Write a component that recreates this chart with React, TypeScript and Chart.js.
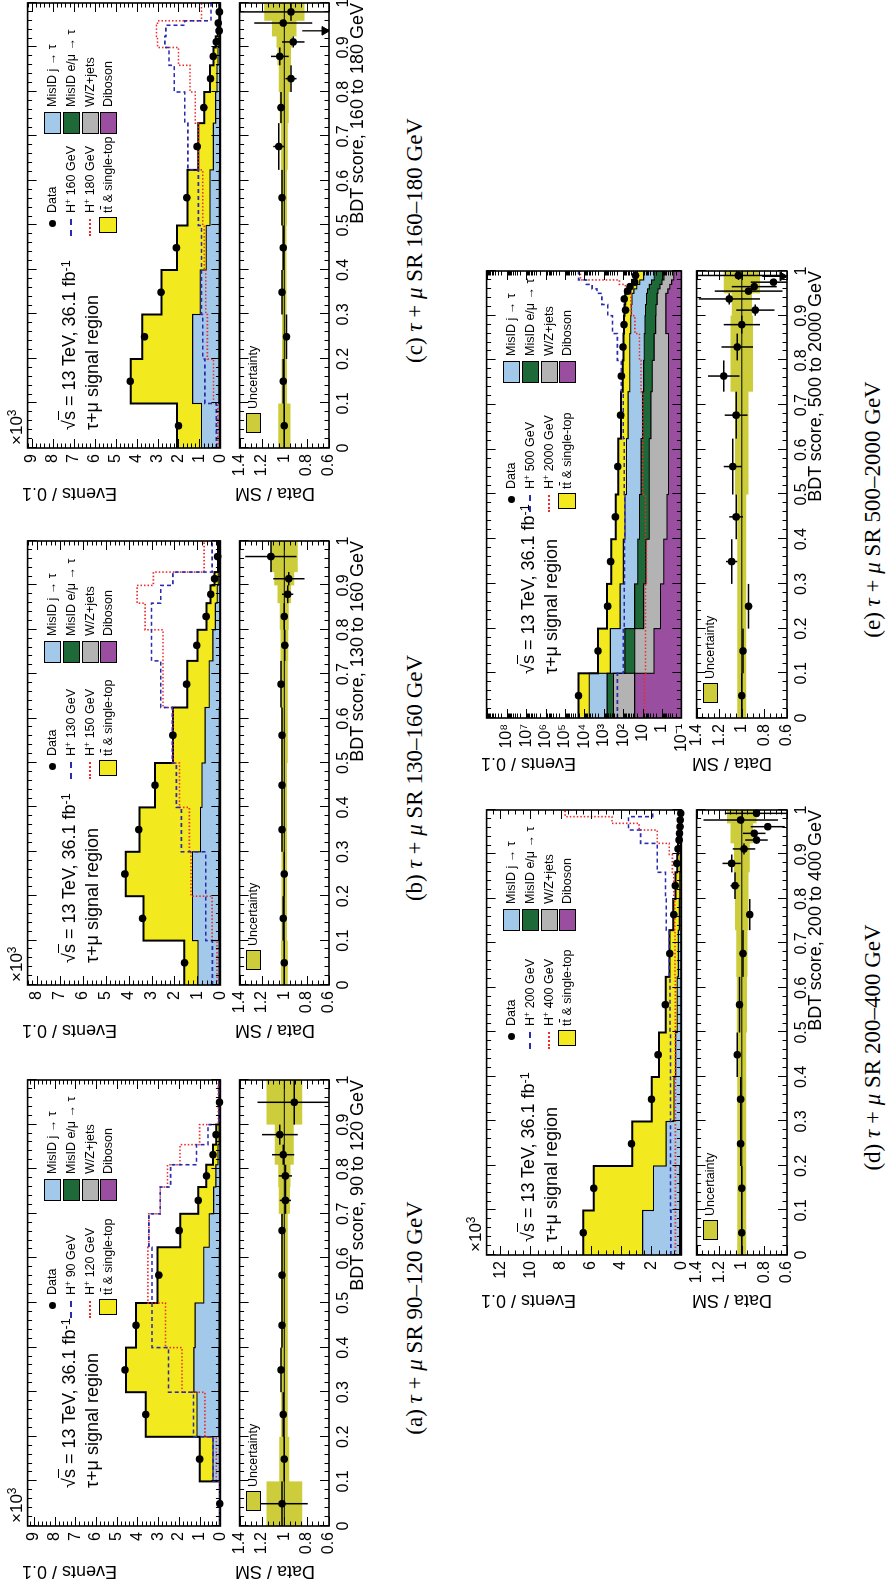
import React, { useEffect, useRef } from "react";
import { Chart, registerables } from "chart.js";

Chart.register(...registerables);

// ===================== DATA =====================
// (a) SR 90-120 GeV  (events in units of 10^3)
const EDGES_A = [0, 0.1, 0.2, 0.3, 0.4, 0.5, 0.625, 0.7, 0.76, 0.81, 0.855, 0.9, 1];
const TTBAR_A = [0.008, 0.645, 2.47, 3.27, 2.85, 2.23, 1.4, 0.74, 0.46, 0.244, 0.14, 0.035];
const MISJ_A = [0.01, 0.3, 1.05, 1.2, 1.15, 0.75, 0.5, 0.3, 0.2, 0.1, 0.05, 0.01];
const MISEMU_A = [0.005, 0.03, 0.04, 0.04, 0.035, 0.03, 0.02, 0.015, 0.01, 0.008, 0.005, 0.002];
const WZ_A = [0.005, 0.02, 0.03, 0.03, 0.025, 0.02, 0.015, 0.01, 0.008, 0.006, 0.004, 0.002];
const DIB_A = [0.002, 0.005, 0.008, 0.008, 0.007, 0.006, 0.004, 0.003, 0.002, 0.002, 0.001, 0.001];
const SIG1_A = [0.02, 0.35, 1.3, 2.5, 3.3, 3.3, 3.45, 2.9, 2.4, 1.15, 0.6, 0.05];
const SIG2_A = [0.01, 0.2, 0.75, 1.85, 2.65, 3.5, 3.45, 2.9, 2.55, 1.95, 1.0, 0.1];
const DATA_A = [0.03, 1.0, 3.6, 4.6, 4.07, 2.97, 1.99, 1.07, 0.67, 0.36, 0.21, 0.045];
const RATIO_A = [1.02, 1.0, 1.01, 1.03, 1.02, 1.02, 1.02, 0.99, 0.99, 1.01, 1.04, 0.91];
const RATIO_ERR_A = [0.23, 0.03, 0.015, 0.015, 0.015, 0.02, 0.025, 0.05, 0.06, 0.1, 0.16, 0.33];
const UNC_A = [0.16, 0.045, 0.03, 0.03, 0.03, 0.03, 0.03, 0.05, 0.055, 0.085, 0.085, 0.16];
const ARROW_X_A: number[] = [];
const ARROW_FROM_A: number[] = [];

// (b) SR 130-160 GeV
const EDGES_B = [0, 0.1, 0.2, 0.3, 0.4, 0.5, 0.625, 0.73, 0.8, 0.86, 0.9, 0.93, 1];
const TTBAR_B = [0.6, 2.13, 2.91, 2.66, 2.05, 1.4, 0.96, 0.67, 0.39, 0.295, 0.17, 0.064];
const MISJ_B = [0.92, 1.14, 1.14, 0.8, 0.75, 0.62, 0.45, 0.3, 0.2, 0.12, 0.08, 0.04];
const MISEMU_B = [0.03, 0.04, 0.04, 0.035, 0.03, 0.025, 0.02, 0.015, 0.01, 0.008, 0.006, 0.003];
const WZ_B = [0.02, 0.03, 0.03, 0.025, 0.02, 0.018, 0.014, 0.01, 0.008, 0.006, 0.004, 0.002];
const DIB_B = [0.004, 0.006, 0.006, 0.005, 0.004, 0.004, 0.003, 0.002, 0.002, 0.001, 0.001, 0.001];
const SIG1_B = [0.35, 0.64, 0.64, 1.7, 1.92, 2.1, 2.6, 3.0, 3.0, 2.6, 2.07, 0.36];
const SIG2_B = [0.15, 0.36, 1.28, 1.35, 1.78, 2.07, 2.5, 2.5, 3.28, 3.63, 2.92, 0.71];
const DATA_B = [1.56, 3.39, 4.16, 3.56, 2.85, 2.07, 1.47, 1.03, 0.62, 0.42, 0.25, 0.12];
const RATIO_B = [1.0, 1.01, 1.0, 1.02, 1.02, 1.02, 1.03, 0.995, 1.0, 0.97, 0.96, 1.12];
const RATIO_ERR_B = [0.01, 0.01, 0.01, 0.01, 0.012, 0.015, 0.02, 0.025, 0.03, 0.05, 0.14, 0.23];
const UNC_B = [0.03, 0.025, 0.025, 0.025, 0.025, 0.03, 0.03, 0.035, 0.04, 0.06, 0.09, 0.12];
const ARROW_X_B: number[] = [];
const ARROW_FROM_B: number[] = [];

// (c) SR 160-180 GeV
const EDGES_C = [0, 0.1, 0.2, 0.3, 0.4, 0.5, 0.625, 0.73, 0.8, 0.86, 0.9, 0.925, 0.95, 0.96, 1];
const TTBAR_C = [1.17, 2.95, 2.4, 1.84, 1.4, 1.07, 0.72, 0.54, 0.34, 0.215, 0.15, 0.082, 0.064, 0.026];
const MISJ_C = [0.85, 1.25, 1.25, 0.9, 0.62, 0.45, 0.3, 0.2, 0.14, 0.1, 0.06, 0.04, 0.03, 0.02];
const MISEMU_C = [0.03, 0.04, 0.04, 0.035, 0.03, 0.025, 0.02, 0.015, 0.01, 0.008, 0.006, 0.004, 0.003, 0.002];
const WZ_C = [0.02, 0.03, 0.03, 0.025, 0.02, 0.018, 0.014, 0.01, 0.008, 0.006, 0.004, 0.003, 0.002, 0.001];
const DIB_C = [0.004, 0.006, 0.006, 0.005, 0.004, 0.004, 0.003, 0.002, 0.002, 0.001, 0.001, 0.001, 0.001, 0.001];
const SIG1_C = [0.19, 0.74, 0.84, 0.9, 0.9, 1.05, 1.55, 1.7, 2.2, 2.45, 2.65, 2.6, 1.7, 0.45];
const SIG2_C = [0.12, 0.33, 0.62, 0.7, 0.77, 0.84, 1.05, 1.2, 1.45, 2.0, 3.0, 3.05, 3.0, 0.9];
const DATA_C = [2.0, 4.3, 3.62, 2.83, 2.1, 1.6, 1.11, 0.79, 0.47, 0.34, 0.2, 0.06, 0.1, 0.047];
const RATIO_C: (number | null)[] = [1.0, 1.01, 0.98, 1.02, 1.01, 1.02, 1.05, 1.03, 0.94, 1.04, 0.92, null, 1.01, 0.94];
const RATIO_ERR_C = [0.01, 0.01, 0.015, 0.01, 0.015, 0.02, 0.05, 0.03, 0.05, 0.08, 0.1, 0, 0.26, 0.5];
const UNC_C = [0.055, 0.025, 0.02, 0.02, 0.02, 0.025, 0.03, 0.04, 0.05, 0.06, 0.07, 0.11, 0.11, 0.18];
const ARROW_X_C = [0.9375];
const ARROW_FROM_C = [0.84];

// (d) SR 200-400 GeV
const EDGES_D = [0, 0.1, 0.2, 0.3, 0.4, 0.5, 0.625, 0.73, 0.8, 0.86, 0.9, 0.925, 0.94, 0.955, 0.97, 0.985, 1];
const TTBAR_D = [3.93, 3.95, 2.25, 1.47, 1.1, 0.765, 0.58, 0.404, 0.287, 0.21, 0.167, 0.128, 0.104, 0.08, 0.056, 0.037];
const MISJ_D = [2.45, 1.75, 0.95, 0.45, 0.35, 0.25, 0.18, 0.12, 0.09, 0.06, 0.045, 0.035, 0.03, 0.025, 0.02, 0.01];
const MISEMU_D = [0.06, 0.05, 0.03, 0.02, 0.015, 0.012, 0.01, 0.008, 0.006, 0.005, 0.004, 0.003, 0.003, 0.002, 0.002, 0.001];
const WZ_D = [0.05, 0.04, 0.025, 0.015, 0.012, 0.01, 0.008, 0.006, 0.005, 0.004, 0.003, 0.003, 0.002, 0.002, 0.001, 0.001];
const DIB_D = [0.01, 0.008, 0.006, 0.004, 0.003, 0.003, 0.002, 0.002, 0.002, 0.001, 0.001, 0.001, 0.001, 0.001, 0.001, 0.001];
const SIG1_D = [0.7, 0.72, 0.72, 0.72, 0.72, 0.75, 0.8, 1.0, 1.05, 1.6, 1.6, 2.7, 2.7, 3.5, 3.5, 1.9];
const SIG2_D = [0.4, 0.4, 0.4, 0.4, 0.4, 0.4, 0.42, 0.45, 0.5, 0.6, 0.8, 1.6, 1.6, 2.8, 4.6, 7.7];
const DATA_D = [6.5, 5.8, 3.3, 1.98, 1.54, 1.06, 0.77, 0.5, 0.41, 0.3, 0.215, 0.15, 0.125, 0.085, 0.08, 0.045];
const RATIO_D = [1.0, 1.0, 1.01, 1.01, 1.04, 1.02, 0.99, 0.93, 1.06, 1.09, 0.98, 0.87, 0.89, 0.77, 1.01, 0.87];
const RATIO_ERR_D = [0.01, 0.01, 0.01, 0.015, 0.02, 0.02, 0.03, 0.03, 0.04, 0.08, 0.1, 0.1, 0.1, 0.15, 0.33, 0.28];
const UNC_D = [0.04, 0.04, 0.04, 0.04, 0.04, 0.045, 0.05, 0.06, 0.06, 0.07, 0.07, 0.1, 0.1, 0.1, 0.13, 0.13];
const ARROW_X_D: number[] = [];
const ARROW_FROM_D: number[] = [];

// (e) SR 500-2000 GeV (events, log scale)
const EDGES_E = [0, 0.1, 0.2, 0.3, 0.4, 0.5, 0.625, 0.73, 0.8, 0.86, 0.9, 0.925, 0.95, 0.96, 0.97, 0.98, 1];
const TTBAR_E = [14300, 1540, 532, 310, 159, 110, 73, 61, 52, 50, 47, 44, 35, 30, 21.4, 13.5];
const MISJ_E = [4950, 376, 119, 80, 67, 55.6, 46, 37, 37.6, 33, 31, 29, 22.6, 15.5, 10.6, 6.4];
const MISEMU_E = [360, 56, 16.8, 11, 9.9, 7.4, 6.2, 5.7, 5.6, 5.4, 5.1, 4.5, 4.0, 3.2, 2.5, 1.7];
const WZ_E = [290, 23, 7.7, 5.95, 4.0, 4.1, 3.3, 2.7, 2.1, 1.5, 1.4, 1.15, 1.1, 0.86, 0.68, 0.54];
const DIB_E = [25.7, 2.6, 1.2, 0.81, 0.55, 0.46, 0.46, 0.46, 0.46, 0.63, 0.63, 0.63, 0.5, 0.4, 0.32, 0.25];
const SIG1_E = [200, 100, 89, 85, 83, 89, 100, 126, 200, 355, 630, 1260, 2240, 3980, 7940, 19950];
const SIG2_E = [8.1, 7.1, 7.1, 6.3, 7.1, 10, 10, 12, 14.5, 25, 38, 40, 50, 79, 158, 15850];
const DATA_E = [20000, 1975, 635, 444, 252, 192, 135, 124, 102, 91, 75, 88, 59, 44.5, 25.6, 23];
const RATIO_E = [1.0, 0.99, 0.94, 1.09, 1.05, 1.08, 1.05, 1.16, 1.04, 1.0, 0.88, 1.11, 0.94, 0.89, 0.72, 1.03];
const RATIO_ERR_E = [0.01, 0.02, 0.03, 0.05, 0.06, 0.08, 0.1, 0.14, 0.14, 0.16, 0.17, 0.27, 0.3, 0.2, 0.2, 0.4];
const UNC_E = [0.04, 0.04, 0.04, 0.04, 0.04, 0.06, 0.06, 0.1, 0.1, 0.1, 0.09, 0.09, 0.16, 0.16, 0.16, 0.16];
const ARROW_X_E = [0.988];
const ARROW_FROM_E = [0.82];

// signal mass labels (GeV)
const SIG_MASSES = [
  ["90", "120"],
  ["130", "150"],
  ["160", "180"],
  ["200", "400"],
  ["500", "2000"],
];

// ===================== STYLE =====================
const SANS = '"Liberation Sans", Arial, Helvetica, sans-serif';
const NARROW = '"Liberation Sans Narrow", "Liberation Sans", Arial, sans-serif';
const SERIF = '"Liberation Serif", "DejaVu Serif", "Times New Roman", serif';

const C_TT = "#f2ea1e";
const C_J = "#a3c9ea";
const C_EMU = "#1d6a38";
const C_WZ = "#b3b3b3";
const C_DIB = "#9a4e9f";
const C_UNC = "#cdcd3c";
const C_SIG1 = "#2b2bb0";
const C_SIG2 = "#ee2a2a";

const ML = 50; // left margin in canvas for y labels
const MP = 14; // other margins main
const RP = 12; // top pad ratio
const XB = 28; // x label band
const TICKF = 16;
const TITLEF = 18;
const LEGF = 12.5;

const ROWS = [
  { top: 26, bottom: 222, rTop: 236, rBottom: 329 },
  { top: 485, bottom: 683, rTop: 693, rBottom: 787 },
];

type Panel = {
  letter: string;
  lo: string;
  hi: string;
  m1: string;
  m2: string;
  X0: number;
  W: number;
  row: number;
  edges: number[];
  tt: number[];
  jet: number[];
  emu: number[];
  wz: number[];
  dib: number[];
  s1: number[];
  s2: number[];
  data: number[];
  ratio: (number | null)[];
  ratioErr: number[];
  unc: number[];
  arrowX: number[];
  arrowFrom: number[];
  log: boolean;
  yMax: number;
  yStep: number;
  yMinor: number;
  atlasOff: number;
  leg1: number;
  leg2: number;
};

const PANELS: Panel[] = [
  { letter: "a", lo: "90", hi: "120", m1: SIG_MASSES[0][0], m2: SIG_MASSES[0][1], X0: 59, W: 446, row: 0, edges: EDGES_A, tt: TTBAR_A, jet: MISJ_A, emu: MISEMU_A, wz: WZ_A, dib: DIB_A, s1: SIG1_A, s2: SIG2_A, data: DATA_A, ratio: RATIO_A, ratioErr: RATIO_ERR_A, unc: UNC_A, arrowX: ARROW_X_A, arrowFrom: ARROW_FROM_A, log: false, yMax: 9.3, yStep: 1, yMinor: 0.2, atlasOff: 38, leg1: 220, leg2: 325 },
  { letter: "b", lo: "130", hi: "160", m1: SIG_MASSES[1][0], m2: SIG_MASSES[1][1], X0: 600, W: 444, row: 0, edges: EDGES_B, tt: TTBAR_B, jet: MISJ_B, emu: MISEMU_B, wz: WZ_B, dib: DIB_B, s1: SIG1_B, s2: SIG2_B, data: DATA_B, ratio: RATIO_B, ratioErr: RATIO_ERR_B, unc: UNC_B, arrowX: ARROW_X_B, arrowFrom: ARROW_FROM_B, log: false, yMax: 8.4, yStep: 1, yMinor: 0.2, atlasOff: 22, leg1: 218, leg2: 322 },
  { letter: "c", lo: "160", hi: "180", m1: SIG_MASSES[2][0], m2: SIG_MASSES[2][1], X0: 1137, W: 445, row: 0, edges: EDGES_C, tt: TTBAR_C, jet: MISJ_C, emu: MISEMU_C, wz: WZ_C, dib: DIB_C, s1: SIG1_C, s2: SIG2_C, data: DATA_C, ratio: RATIO_C, ratioErr: RATIO_ERR_C, unc: UNC_C, arrowX: ARROW_X_C, arrowFrom: ARROW_FROM_C, log: false, yMax: 9.2, yStep: 1, yMinor: 0.2, atlasOff: 18, leg1: 224, leg2: 314 },
  { letter: "d", lo: "200", hi: "400", m1: SIG_MASSES[3][0], m2: SIG_MASSES[3][1], X0: 330, W: 445, row: 1, edges: EDGES_D, tt: TTBAR_D, jet: MISJ_D, emu: MISEMU_D, wz: WZ_D, dib: DIB_D, s1: SIG1_D, s2: SIG2_D, data: DATA_D, ratio: RATIO_D, ratioErr: RATIO_ERR_D, unc: UNC_D, arrowX: ARROW_X_D, arrowFrom: ARROW_FROM_D, log: false, yMax: 12.9, yStep: 2, yMinor: 0.5, atlasOff: 13, leg1: 218, leg2: 324 },
  { letter: "e", lo: "500", hi: "2000", m1: SIG_MASSES[4][0], m2: SIG_MASSES[4][1], X0: 867, W: 447, row: 1, edges: EDGES_E, tt: TTBAR_E, jet: MISJ_E, emu: MISEMU_E, wz: WZ_E, dib: DIB_E, s1: SIG1_E, s2: SIG2_E, data: DATA_E, ratio: RATIO_E, ratioErr: RATIO_ERR_E, unc: UNC_E, arrowX: ARROW_X_E, arrowFrom: ARROW_FROM_E, log: true, yMax: 1.1e9, yStep: 1, yMinor: 1, atlasOff: 44, leg1: 218, leg2: 335 },
];

// ===================== HELPERS =====================
function stepPts(edges: number[], vals: number[]) {
  const pts = vals.map((v, i) => ({ x: edges[i], y: v }));
  pts.push({ x: edges[edges.length - 1], y: vals[vals.length - 1] });
  return pts;
}
function binCenters(edges: number[]) {
  return edges.slice(0, -1).map((e, i) => (e + edges[i + 1]) / 2);
}
function cumulate(layers: number[][]) {
  const out: number[][] = [];
  layers.forEach((l, k) => out.push(l.map((v, i) => v + (k ? out[k - 1][i] : 0))));
  return out;
}
type Tk = { v: number; major: boolean };
function linTicks(min: number, max: number, major: number, minor: number): Tk[] {
  const t: Tk[] = [];
  const n = Math.floor((max - min) / minor + 1e-6);
  for (let i = 0; i <= n; i++) {
    const v = min + i * minor;
    const q = (v - min) / major;
    t.push({ v, major: Math.abs(q - Math.round(q)) < 1e-6 });
  }
  return t;
}
function logTicks(min: number, max: number): Tk[] {
  const t: Tk[] = [];
  for (let d = -2; d <= 10; d++)
    for (let k = 1; k <= 9; k++) {
      const v = k * Math.pow(10, d);
      if (v >= min * 0.999 && v <= max) t.push({ v, major: k === 1 });
    }
  return t;
}
const SUP: Record<string, string> = { "-": "⁻", "0": "⁰", "1": "¹", "2": "²", "3": "³", "4": "⁴", "5": "⁵", "6": "⁶", "7": "⁷", "8": "⁸", "9": "⁹" };
function logLabel(v: number) {
  const e = Math.round(Math.log10(v));
  if (e === 0) return "1";
  if (e === 1) return "10";
  return "10" + String(e).split("").map((c) => SUP[c]).join("");
}

function framePlugin(yTicks: Tk[]) {
  return {
    id: "atlasFrame",
    afterDatasetsDraw(chart: any) {
      const { ctx, chartArea: a } = chart;
      const xs = chart.scales.x;
      const ys = chart.scales.y;
      ctx.save();
      ctx.strokeStyle = "#000";
      ctx.lineWidth = 1;
      ctx.beginPath();
      for (let i = 0; i <= 50; i++) {
        const px = Math.round(xs.getPixelForValue(i / 50)) + 0.5;
        const L = i % 5 === 0 ? 9 : 4.5;
        ctx.moveTo(px, a.bottom);
        ctx.lineTo(px, a.bottom - L);
        ctx.moveTo(px, a.top);
        ctx.lineTo(px, a.top + L);
      }
      for (const t of yTicks) {
        const py = Math.round(ys.getPixelForValue(t.v)) + 0.5;
        if (py < a.top - 0.5 || py > a.bottom + 0.5) continue;
        const L = t.major ? 9 : 4.5;
        ctx.moveTo(a.left, py);
        ctx.lineTo(a.left + L, py);
        ctx.moveTo(a.right, py);
        ctx.lineTo(a.right - L, py);
      }
      ctx.stroke();
      ctx.lineWidth = 1.6;
      ctx.strokeRect(a.left, a.top, a.right - a.left, a.bottom - a.top);
      ctx.restore();
    },
  };
}

const tickFont = { family: SANS, size: TICKF };

function mainConfig(p: Panel): any {
  const cum = cumulate([p.dib, p.wz, p.emu, p.jet, p.tt]);
  const ctr = binCenters(p.edges);
  const sb = { stepped: "before", pointRadius: 0, tension: 0 };
  const datasets: any[] = [
    { data: ctr.map((c, i) => ({ x: c, y: p.data[i] })), showLine: false, pointRadius: 3.8, pointBackgroundColor: "#000", pointBorderColor: "#000", pointBorderWidth: 0, clip: false, fill: false },
    { ...sb, data: stepPts(p.edges, p.s1), borderColor: C_SIG1, borderWidth: 1.6, borderDash: [4, 3], fill: false },
    { ...sb, data: stepPts(p.edges, p.s2), borderColor: C_SIG2, borderWidth: 1.6, borderDash: [1.5, 2], fill: false },
    { ...sb, data: stepPts(p.edges, cum[4]), borderColor: "#000", borderWidth: 2, backgroundColor: C_TT, fill: 4 },
    { ...sb, data: stepPts(p.edges, cum[3]), borderColor: "#000", borderWidth: 1.1, backgroundColor: C_J, fill: 5 },
    { ...sb, data: stepPts(p.edges, cum[2]), borderColor: "#000", borderWidth: 1.1, backgroundColor: C_EMU, fill: 6 },
    { ...sb, data: stepPts(p.edges, cum[1]), borderColor: "#000", borderWidth: 1.1, backgroundColor: C_WZ, fill: 7 },
    { ...sb, data: stepPts(p.edges, cum[0]), borderColor: "#000", borderWidth: 1.1, backgroundColor: C_DIB, fill: "start" },
  ];
  const yScale: any = p.log
    ? {
        type: "logarithmic",
        min: 0.1,
        max: p.yMax,
        grid: { display: false, drawTicks: false },
        border: { display: false },
        ticks: { padding: 6, color: "#000", font: tickFont, autoSkip: false, callback: (v: number) => logLabel(v) },
        afterBuildTicks: (s: any) => {
          s.ticks = [-1, 0, 1, 2, 3, 4, 5, 6, 7, 8].map((e) => ({ value: Math.pow(10, e) }));
        },
        afterFit: (s: any) => {
          s.width = ML;
        },
      }
    : {
        type: "linear",
        min: 0,
        max: p.yMax,
        grid: { display: false, drawTicks: false },
        border: { display: false },
        ticks: { stepSize: p.yStep, includeBounds: false, padding: 6, color: "#000", font: tickFont, autoSkip: false },
        afterFit: (s: any) => {
          s.width = ML;
        },
      };
  const yt = p.log ? logTicks(0.1, p.yMax) : linTicks(0, p.yMax, p.yStep, p.yMinor);
  return {
    type: "line",
    data: { datasets },
    options: {
      animation: false,
      responsive: false,
      maintainAspectRatio: false,
      devicePixelRatio: 1,
      events: [],
      layout: { padding: { left: 0, right: MP, top: MP, bottom: MP } },
      plugins: { legend: { display: false }, tooltip: { enabled: false }, filler: { drawTime: "beforeDatasetsDraw" } },
      scales: { x: { type: "linear", min: 0, max: 1, display: false }, y: yScale },
    },
    plugins: [framePlugin(yt)],
  };
}

function ratioConfig(p: Panel): any {
  const ctr = binCenters(p.edges);
  const pts: any[] = [];
  const err: any[] = [];
  ctr.forEach((c, i) => {
    const r = p.ratio[i];
    if (r === null || r === undefined) return;
    pts.push({ x: c, y: r });
    const e = p.ratioErr[i];
    err.push({ x: p.edges[i], y: r }, { x: p.edges[i + 1], y: r }, { x: p.edges[i + 1], y: null });
    err.push({ x: c, y: r - e }, { x: c, y: r + e }, { x: c, y: null });
  });
  const arrLine: any[] = [];
  const arrHead: any[] = [];
  p.arrowX.forEach((x, i) => {
    arrLine.push({ x, y: p.arrowFrom[i] }, { x, y: 0.65 }, { x, y: null });
    arrHead.push({ x, y: 0.64 });
  });
  const hi = p.unc.map((u) => 1 + u);
  const lo = p.unc.map((u) => 1 - u);
  const datasets: any[] = [
    { data: pts, showLine: false, pointRadius: 3.8, pointBackgroundColor: "#000", pointBorderColor: "#000", pointBorderWidth: 0, clip: false, fill: false },
    { data: err, borderColor: "#000", borderWidth: 1.5, pointRadius: 0, spanGaps: false, fill: false },
    { data: arrLine, borderColor: "#000", borderWidth: 1.3, pointRadius: 0, spanGaps: false, fill: false },
    { data: arrHead, showLine: false, pointStyle: "triangle", rotation: 180, pointRadius: 5, pointBackgroundColor: "#000", pointBorderColor: "#000", fill: false },
    { data: [{ x: 0, y: 1 }, { x: 1, y: 1 }], borderColor: "#000", borderWidth: 1, pointRadius: 0, fill: false },
    { data: stepPts(p.edges, hi), stepped: "before", borderColor: "rgba(0,0,0,0)", borderWidth: 0, backgroundColor: C_UNC, fill: 6, pointRadius: 0 },
    { data: stepPts(p.edges, lo), stepped: "before", borderColor: "rgba(0,0,0,0)", borderWidth: 0, fill: false, pointRadius: 0 },
  ];
  const fmt = (v: number) => String(Math.round(v * 10) / 10);
  return {
    type: "line",
    data: { datasets },
    options: {
      animation: false,
      responsive: false,
      maintainAspectRatio: false,
      devicePixelRatio: 1,
      events: [],
      layout: { padding: { left: 0, right: MP, top: RP, bottom: 0 } },
      plugins: { legend: { display: false }, tooltip: { enabled: false }, filler: { drawTime: "beforeDatasetsDraw" } },
      scales: {
        x: {
          type: "linear",
          min: 0,
          max: 1,
          grid: { display: false, drawTicks: false },
          border: { display: false },
          ticks: { stepSize: 0.1, padding: 5, color: "#000", font: tickFont, autoSkip: false, maxRotation: 0, minRotation: 0, callback: fmt },
          afterFit: (s: any) => {
            s.height = XB;
          },
        },
        y: {
          type: "linear",
          min: 0.6,
          max: 1.4,
          grid: { display: false, drawTicks: false },
          border: { display: false },
          ticks: { stepSize: 0.2, padding: 6, color: "#000", font: tickFont, autoSkip: false, callback: fmt },
          afterFit: (s: any) => {
            s.width = ML;
          },
        },
      },
    },
    plugins: [framePlugin(linTicks(0.6, 1.4, 0.2, 0.05))],
  };
}

// ===================== COMPONENTS =====================
function ChartBox({ left, top, width, height, build }: { left: number; top: number; width: number; height: number; build: () => any }) {
  const ref = useRef<HTMLCanvasElement | null>(null);
  useEffect(() => {
    if (!ref.current) return;
    const chart = new Chart(ref.current, build());
    return () => chart.destroy();
  }, []);
  return <canvas ref={ref} width={width} height={height} style={{ position: "absolute", left, top, width, height }} />;
}

function Txt({ x, y, size, family, children, align }: { x: number; y: number; size: number; family: string; children: any; align?: "left" | "right" | "center" }) {
  const base: any = { position: "absolute", top: y - size * 0.6, fontSize: size, lineHeight: `${size * 1.2}px`, fontFamily: family, whiteSpace: "nowrap", color: "#000" };
  if (align === "right") return <div style={{ ...base, left: x - 600, width: 600, textAlign: "right" }}>{children}</div>;
  if (align === "center") return <div style={{ ...base, left: x - 400, width: 800, textAlign: "center" }}>{children}</div>;
  return <div style={{ ...base, left: x }}>{children}</div>;
}

function VTxt({ x, yTop, size, children }: { x: number; yTop: number; size: number; children: any }) {
  return (
    <div
      style={{
        position: "absolute",
        left: x,
        top: yTop,
        fontSize: size,
        lineHeight: `${size * 1.2}px`,
        fontFamily: SANS,
        whiteSpace: "nowrap",
        transformOrigin: "0 0",
        transform: "rotate(-90deg) translate(-100%, -50%)",
      }}
    >
      {children}
    </div>
  );
}

function Box({ x, y, w, h, color }: { x: number; y: number; w: number; h: number; color: string }) {
  return <div style={{ position: "absolute", left: x, top: y, width: w, height: h, background: color, border: "1.5px solid #000", boxSizing: "border-box" }} />;
}

const supS = { fontSize: "0.7em", position: "relative" as const, top: "-0.45em" };

function PanelView({ p }: { p: Panel }) {
  const R = ROWS[p.row];
  const X0 = p.X0;
  const X1 = p.X0 + p.W;
  const mainH = R.bottom - R.top;
  const ratH = R.rBottom - R.rTop;
  const rowsY = [26, 45, 64, 82].map((d) => R.top + d);
  const dX = X0 + p.leg1;
  const bX = X0 + p.leg2;
  const col2 = [
    { c: C_J, t: <>MisID j → τ</> },
    { c: C_EMU, t: <>MisID e/μ → τ</> },
    { c: C_WZ, t: <>W/Z+jets</> },
    { c: C_DIB, t: <>Diboson</> },
  ];
  return (
    <>
      <ChartBox left={X0 - ML} top={R.top - MP} width={p.W + ML + MP} height={mainH + 2 * MP} build={() => mainConfig(p)} />
      <ChartBox left={X0 - ML} top={R.rTop - RP} width={p.W + ML + MP} height={ratH + RP + XB} build={() => ratioConfig(p)} />

      {!p.log && (
        <Txt x={X0 + 3} y={R.top - 9} size={17} family={SANS}>
          ×10<span style={supS}>3</span>
        </Txt>
      )}

      <Txt x={X0 + p.atlasOff} y={R.top + 44} size={TITLEF} family={SANS}>
        √<span style={{ borderTop: "1.5px solid #000" }}>s</span> = 13 TeV, 36.1 fb<span style={supS}>-1</span>
      </Txt>
      <Txt x={X0 + p.atlasOff} y={R.top + 67} size={TITLEF} family={SANS}>
        τ+μ signal region
      </Txt>

      {/* legend column 1 */}
      <div style={{ position: "absolute", left: dX - 3.5, top: rowsY[0] - 3.5, width: 7, height: 7, borderRadius: "50%", background: "#000" }} />
      <Txt x={dX + 11} y={rowsY[0]} size={LEGF} family={NARROW}>Data</Txt>
      <div style={{ position: "absolute", left: dX - 12, top: rowsY[1] - 1, width: 17, height: 0, borderTop: `2px dashed ${C_SIG1}` }} />
      <Txt x={dX + 11} y={rowsY[1]} size={LEGF} family={NARROW}>
        H<span style={supS}>+</span> {p.m1} GeV
      </Txt>
      <div style={{ position: "absolute", left: dX - 12, top: rowsY[2] - 1, width: 17, height: 0, borderTop: `2px dotted ${C_SIG2}` }} />
      <Txt x={dX + 11} y={rowsY[2]} size={LEGF} family={NARROW}>
        H<span style={supS}>+</span> {p.m2} GeV
      </Txt>
      <Box x={dX - 9} y={rowsY[3] - 9} w={16} h={18} color={C_TT} />
      <Txt x={dX + 11} y={rowsY[3]} size={LEGF} family={NARROW}>
        t<span style={{ textDecoration: "overline" }}>t</span> &amp; single-top
      </Txt>

      {/* legend column 2 */}
      {col2.map((e, i) => (
        <React.Fragment key={i}>
          <Box x={bX} y={rowsY[i] - 8.5} w={22} h={17} color={e.c} />
          <Txt x={bX + 27} y={rowsY[i]} size={LEGF} family={NARROW}>{e.t}</Txt>
        </React.Fragment>
      ))}

      {/* ratio legend */}
      <Box x={X0 + 15} y={R.rTop + 10} w={20} h={15} color={C_UNC} />
      <Txt x={X0 + 39} y={R.rTop + 17} size={LEGF} family={NARROW}>Uncertainty</Txt>

      {/* axis titles */}
      <VTxt x={X0 - 45} yTop={R.top - 4} size={TITLEF}>Events / 0.1</VTxt>
      <VTxt x={X0 - 45} yTop={R.rTop - 1} size={TITLEF}>Data / SM</VTxt>
      <Txt x={X1} y={R.rBottom + 29} size={TITLEF} family={SANS} align="right">
        BDT score, {p.lo} to {p.hi} GeV
      </Txt>

      {/* caption */}
      <Txt x={(X0 + X1) / 2 - 15} y={R.rBottom + 86} size={23} family={SERIF} align="center">
        ({p.letter}) <i>τ</i> + <i>μ</i> SR {p.lo}–{p.hi} GeV
      </Txt>
    </>
  );
}

export default function App() {
  return (
    <div style={{ position: "fixed", left: 0, top: 0, width: 886, height: 1585, overflow: "hidden", background: "#fff" }}>
      <div
        style={{
          position: "absolute",
          left: 0,
          top: 0,
          width: 1585,
          height: 886,
          transformOrigin: "0 0",
          transform: "translate(0px, 1585px) rotate(-90deg)",
        }}
      >
        {PANELS.map((p) => (
          <PanelView key={p.letter} p={p} />
        ))}
      </div>
    </div>
  );
}
